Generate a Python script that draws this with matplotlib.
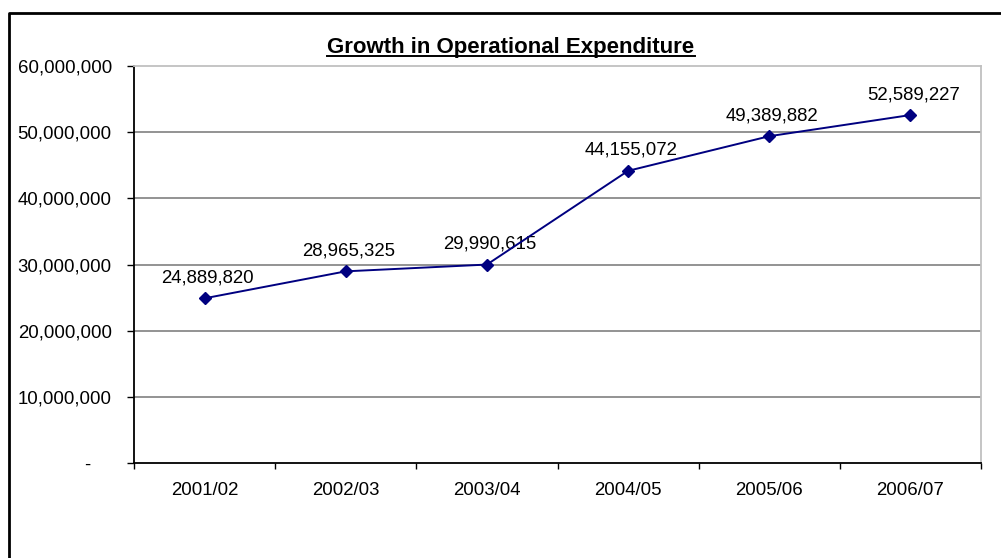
import matplotlib
matplotlib.use("Agg")
import matplotlib.pyplot as plt
from matplotlib.lines import Line2D
from matplotlib.ticker import FuncFormatter, FixedLocator

plt.rcParams['font.family'] = ['Liberation Sans', 'DejaVu Sans']

years = ['2001/02', '2002/03', '2003/04', '2004/05', '2005/06', '2006/07']
opex = [24889820, 28965325, 29990615, 44155072, 49389882, 52589227]
yticks = [0, 10000000, 20000000, 30000000, 40000000, 50000000, 60000000]

fig = plt.figure(figsize=(10.01, 5.58), dpi=100)
ax = fig.add_axes([134 / 1001, 1 - 463 / 558, 847 / 1001, 397 / 558])

x = list(range(len(years)))
ax.plot(x, opex, color='#000080', lw=1.4, marker='D', markersize=6,
        markerfacecolor='#000080', markeredgecolor='#000080', zorder=4)

for xi, v in zip(x, opex):
    ax.annotate(f"{v:,}", (xi, v), xytext=(2, 11.5), textcoords='offset points',
                ha='center', va='baseline', fontsize=13.4, color='black')

ax.set_xlim(-0.5, len(years) - 0.5)
ax.set_ylim(0, 60000000)
ax.set_yticks(yticks)
ax.yaxis.set_major_formatter(FuncFormatter(lambda v, p: "-    " if v == 0 else f"{int(v):,}"))

# category labels centred, tick marks between categories
ax.set_xticks(x)
ax.set_xticklabels(years)
ax.xaxis.set_minor_locator(FixedLocator([i - 0.5 for i in range(len(years) + 1)]))
ax.tick_params(axis='x', which='major', length=0, pad=13.5, labelsize=13.4)
ax.tick_params(axis='x', which='minor', length=4, width=1, direction='out', color='black')
ax.tick_params(axis='y', length=5, width=1, direction='out', pad=11, labelsize=13.4, color='black')

for yv in yticks[1:-1]:
    ax.axhline(yv, color='#808080', lw=1.2, zorder=1)

ax.spines['left'].set_color('black')
ax.spines['bottom'].set_color('black')
ax.spines['top'].set_color('#c0c0c0')
ax.spines['right'].set_color('#c0c0c0')
for s in ax.spines.values():
    s.set_linewidth(1.3)

title = fig.text(511 / 1001, 1 - 53 / 558, "Growth in Operational Expenditure",
                 ha='center', va='baseline', fontsize=16, fontweight='bold')

# underline under the title
fig.canvas.draw()
bb = title.get_window_extent().transformed(fig.transFigure.inverted())
uy = 1 - 55.5 / 558
fig.add_artist(Line2D([bb.x0, bb.x1], [uy, uy], color='black', lw=1.4,
                      transform=fig.transFigure))

# chart frame
fig.add_artist(Line2D([8.5 / 1001, 8.5 / 1001, 1.0], [0.0, 1 - 12.5 / 558, 1 - 12.5 / 558],
                      color='black', lw=2, transform=fig.transFigure))

fig.savefig("out.png", dpi=100)
